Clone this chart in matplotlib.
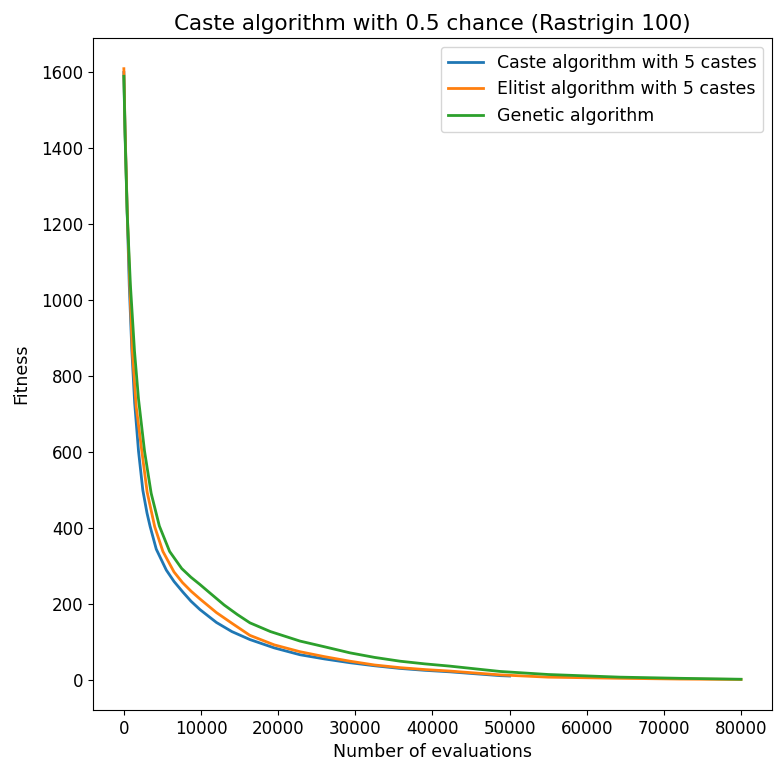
import matplotlib
matplotlib.use("Agg")
import matplotlib.pyplot as plt

# Caste algorithm with 5 castes
caste_x = [0, 150, 430, 700, 1040, 1400, 1900, 2460, 3000, 3400, 4200, 5500, 6500,
           7650, 8700, 9860, 12000, 14000, 16340, 19500, 22830, 26000, 29310, 32500,
           35800, 39000, 42280, 45500, 48770, 50000]
caste_y = [1600, 1450, 1234, 1040, 866, 730, 603, 500, 440, 405, 345, 290, 260,
           232, 208, 186, 152, 128, 107, 85, 67, 56, 46, 38, 31, 26, 22, 17, 12, 11]

# Elitist algorithm with 5 castes
elitist_x = [0, 150, 430, 750, 1100, 1600, 2330, 3020, 4000, 5060, 6500, 7600, 8730,
             9860, 12000, 14000, 16340, 19500, 22830, 26000, 29310, 32500, 35800,
             39000, 42280, 45500, 48770, 55000, 64330, 72000, 80000]
elitist_y = [1610, 1455, 1240, 1050, 866, 720, 603, 495, 404, 339, 285, 257, 234,
             214, 178, 150, 118, 93, 75, 62, 50, 40, 33, 28, 24, 19, 14, 8, 5, 3, 2]

# Genetic algorithm
genetic_x = [0, 150, 430, 850, 1380, 1900, 2680, 3540, 4600, 5930, 7500, 8700, 9860,
             10900, 13000, 14700, 16340, 19000, 22830, 26000, 29310, 32500, 35800,
             39000, 42280, 45500, 48770, 55000, 64330, 72000, 80000]
genetic_y = [1590, 1440, 1230, 1040, 866, 740, 603, 492, 406, 339, 294, 271, 252,
             234, 198, 173, 151, 128, 103, 88, 72, 60, 50, 43, 37, 30, 23, 15, 8, 5, 2.5]

fig, ax = plt.subplots(figsize=(7.75, 7.63), dpi=100)
fig.subplots_adjust(left=0.12, right=0.996, top=0.950, bottom=0.0695)

ax.plot(caste_x, caste_y, label="Caste algorithm with 5 castes", color="#1f77b4", lw=2)
ax.plot(elitist_x, elitist_y, label="Elitist algorithm with 5 castes", color="#ff7f0e", lw=2)
ax.plot(genetic_x, genetic_y, label="Genetic algorithm", color="#2ca02c", lw=2)

ax.set_title("Caste algorithm with 0.5 chance (Rastrigin 100)", fontsize=15.5)
ax.set_xlabel("Number of evaluations", fontsize=12.5)
ax.set_ylabel("Fitness", fontsize=12.5, labelpad=8)
ax.tick_params(labelsize=12)
ax.legend(loc="upper right", fontsize=12.5)

fig.savefig("out.png", dpi=100)
